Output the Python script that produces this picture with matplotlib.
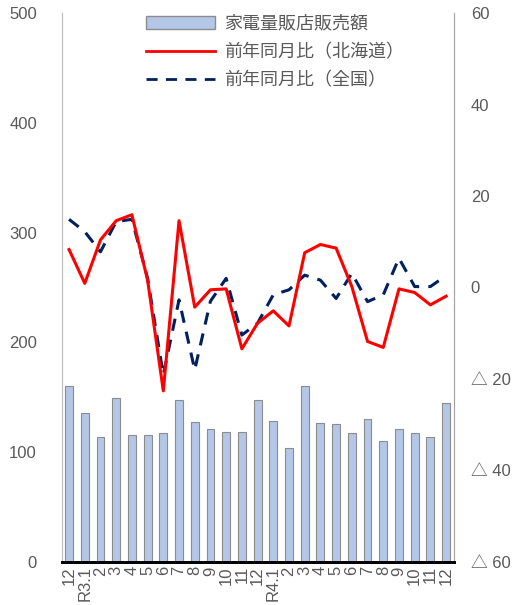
import matplotlib
matplotlib.use("Agg")
import matplotlib.pyplot as plt
from matplotlib.patches import Patch
from matplotlib.lines import Line2D

plt.rcParams['font.family'] = ['Liberation Sans', 'Noto Sans CJK JP', 'DejaVu Sans']

# 月ラベル
months = ['12', 'R3.1', '2', '3', '4', '5', '6', '7', '8', '9', '10', '11',
          '12', 'R4.1', '2', '3', '4', '5', '6', '7', '8', '9', '10', '11', '12']

# 家電量販店販売額（億円）
sales = [160, 136, 113.5, 149, 115.7, 115.4, 117.2, 147.5, 127.2, 121.1, 118.4, 118.7,
         147.5, 128.7, 103.8, 160.3, 126.6, 125.7, 117.5, 130, 110.2, 120.8, 117.2, 114.1, 144.5]

# 前年同月比（北海道）
yoy_hokkaido = [8.3, 0.9, 10.4, 14.6, 15.9, 1.6, -22.6, 14.6, -4.3, -0.5, -0.3, -13.4,
                -7.8, -5.1, -8.4, 7.6, 9.4, 8.6, 0.2, -11.8, -13.1, -0.3, -1.1, -3.8, -1.9]

# 前年同月比（全国）
yoy_japan = [14.9, 12.2, 7.8, 14.4, 14.9, 2.0, -19.1, -2.7, -18.0, -3.0, 2.0, -10.4,
             -7.8, -1.6, -0.5, 2.7, 1.6, -2.4, 3.1, -3.1, -1.6, 6.4, 0.2, 0.2, 2.6]

text_color = '#595959'

fig = plt.figure(figsize=(5.23, 6.05), dpi=100)
ax = fig.add_axes([0.1185, 0.0711, 0.7495, 0.9074])
x = list(range(len(months)))

ax.bar(x, sales, width=0.5, color='#B4C7E7', edgecolor='#8C8C8C', linewidth=0.8, zorder=2)
ax.set_ylim(0, 500)
ax.set_yticks([0, 100, 200, 300, 400, 500])
ax.set_xlim(-0.45, 24.5)
ax.set_xticks(x)
ax.set_xticklabels(months, rotation=90, fontsize=12, color=text_color)
ax.tick_params(axis='both', length=0, colors=text_color, labelsize=12)
ax.tick_params(axis='y', pad=18)
ax.tick_params(axis='x', pad=3)

ax2 = ax.twinx()
ax2.plot(x, yoy_hokkaido, color='#FF0000', linewidth=2.2, zorder=4)
ax2.plot(x, yoy_japan, color='#002060', linewidth=2.2, linestyle=(0, (4, 3)), zorder=3)
ax2.set_ylim(-60, 60)
ticks = [-60, -40, -20, 0, 20, 40, 60]
ax2.set_yticks(ticks)
ax2.set_yticklabels([('△ ' + str(-t)) if t < 0 else str(t) for t in ticks])
ax2.tick_params(axis='y', length=0, colors=text_color, labelsize=12, pad=12)

for a in (ax, ax2):
    a.spines['top'].set_visible(False)
    a.spines['left'].set_color('#BFBFBF')
    a.spines['right'].set_color('#A6A6A6')
    a.spines['bottom'].set_color('black')
    a.spines['bottom'].set_linewidth(2)

handles = [Patch(facecolor='#B4C7E7', edgecolor='#8C8C8C'),
           Line2D([0], [0], color='#FF0000', linewidth=2),
           Line2D([0], [0], color='#002060', linewidth=2, linestyle=(0, (4, 3)))]
labels = ['家電量販店販売額', '前年同月比（北海道）', '前年同月比（全国）']
leg = ax2.legend(handles, labels, loc='upper center', bbox_to_anchor=(0.543, 1.025),
                 frameon=False, fontsize=13, handlelength=3.8, handletextpad=0.5,
                 labelspacing=0.62)
for t in leg.get_texts():
    t.set_color(text_color)

fig.savefig('out.png', dpi=100)
